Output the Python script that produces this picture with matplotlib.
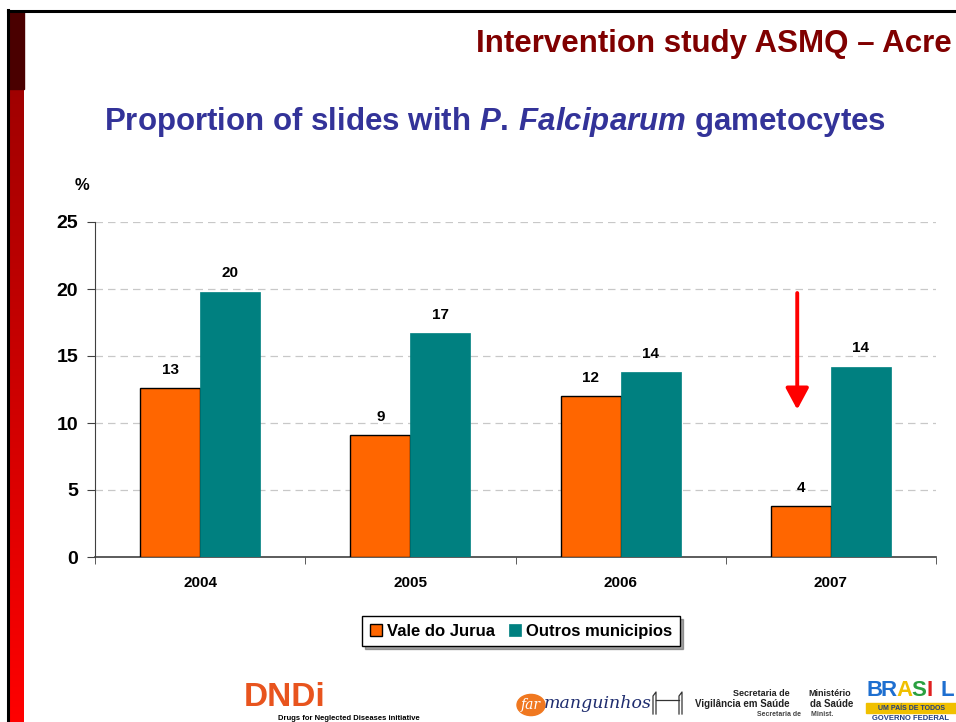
import numpy as np
import matplotlib
matplotlib.use('Agg')
import matplotlib.pyplot as plt
import matplotlib.colors as mcolors
from matplotlib.patches import Rectangle, Circle

plt.rcParams['font.family'] = ['Liberation Sans', 'DejaVu Sans']
plt.rcParams['mathtext.fontset'] = 'custom'
plt.rcParams['mathtext.it'] = 'Liberation Sans:italic:bold'
plt.rcParams['mathtext.rm'] = 'Liberation Sans:bold'

# ---- Data ----
years = ['2004', '2005', '2006', '2007']
vale_jurua = [12.6, 9.1, 12.0, 3.8]
outros_municipios = [19.8, 16.7, 13.8, 14.2]
vale_labels = ['13', '9', '12', '4']
outros_labels = ['20', '17', '14', '14']
yticks = [0, 5, 10, 15, 20, 25]

W, H = 956, 722
fig = plt.figure(figsize=(W / 100, H / 100), dpi=100)


def fx(px):
    return px / W


def fy(py):
    return 1 - py / H


# ---- Slide decoration: left gradient bar and top border ----
bar_ax = fig.add_axes([fx(9), 0, fx(24) - fx(9), fy(89)])
grad = mcolors.LinearSegmentedColormap.from_list('slide', ['#a00000', '#ff0000'])
bar_ax.imshow(np.linspace(0, 1, 256).reshape(-1, 1), cmap=grad, aspect='auto')
bar_ax.axis('off')
fig.patches.append(Rectangle((fx(9), fy(89)), fx(24) - fx(9), fy(11) - fy(89),
                             transform=fig.transFigure, color='#4a0000', zorder=1))
fig.add_artist(plt.Line2D([fx(8), fx(8)], [0, fy(10)], color='black', lw=2.2))
fig.add_artist(plt.Line2D([fx(8), 1], [fy(10.5), fy(10.5)], color='black', lw=2.2))

fig.text(fx(952), fy(44), 'Intervention study ASMQ \u2013 Acre',
         ha='right', va='center', fontsize=22.5, fontweight='bold', color='#800000')

fig.text(fx(495), fy(122),
         r'Proportion of slides with $\it{P.\,Falciparum}$ gametocytes',
         ha='center', va='center', fontsize=22.5, fontweight='bold', color='#333399')

# ---- Chart ----
ax = fig.add_axes([fx(95), fy(557), fx(936) - fx(95), fy(222) - fy(557)])
x = np.arange(len(years))
w = 0.285
ax.bar(x - w / 2, vale_jurua, w, color='#ff6600', edgecolor='black', linewidth=1.0,
       label='Vale do Jurua', zorder=3)
ax.bar(x + w / 2, outros_municipios, w, color='#008080', edgecolor='#008080', linewidth=0.5,
       label='Outros municipios', zorder=3)

for i in range(len(years)):
    ax.text(x[i] - w / 2, vale_jurua[i] + 0.85, vale_labels[i], ha='center', va='bottom',
            fontsize=11, fontweight='bold')
    ax.text(x[i] + w / 2, outros_municipios[i] + 0.85, outros_labels[i], ha='center', va='bottom',
            fontsize=11, fontweight='bold')

ax.set_xlim(-0.5, 3.5)
ax.set_ylim(0, 25)
ax.set_yticks(yticks)
ax.set_yticklabels([str(t) for t in yticks], fontsize=14, fontweight='bold')
ax.set_xticks(x)
ax.set_xticklabels(years, fontsize=11, fontweight='bold')
ax.tick_params(axis='x', length=0, pad=14)
ax.set_xticks(np.arange(-0.5, 4.0, 1.0), minor=True)
ax.tick_params(axis='x', which='minor', length=5, color='#404040')
ax.tick_params(axis='y', length=6, color='#404040', pad=6)
for t in yticks[1:]:
    ax.axhline(t, color='#c8c8c8', lw=0.9, ls=(0, (6, 4)), zorder=1)
for s in ['top', 'right']:
    ax.spines[s].set_visible(False)
ax.spines['left'].set_color('#404040')
ax.spines['bottom'].set_color('#404040')
ax.spines['bottom'].set_linewidth(1.2)

fig.text(fx(82), fy(185), '%', ha='center', va='center', fontsize=12, fontweight='bold')

# red arrow over 2007
ax.annotate('', xy=(3 - 0.16, 11.0), xytext=(3 - 0.16, 19.7),
            arrowprops=dict(arrowstyle='-|>,head_width=0.7,head_length=1.3',
                            color='#ff0000', lw=2.8, shrinkA=0, shrinkB=0))

leg = ax.legend(loc='center', bbox_to_anchor=(fx(521 - 95) / (fx(936) - fx(95)), -0.222),
                ncol=2, frameon=True, fancybox=False, shadow=True,
                prop={'weight': 'bold', 'size': 12},
                handlelength=0.75, handleheight=0.75, handletextpad=0.3,
                columnspacing=0.8, borderpad=0.45, borderaxespad=0)
leg.get_frame().set_edgecolor('black')
leg.get_frame().set_linewidth(1.0)

# ---- Footer logos (approximated) ----
fig.text(fx(244), fy(698), 'DNDi', ha='left', va='center', fontsize=24, fontweight='heavy',
         color='#e8541e')
fig.text(fx(278), fy(718), 'Drugs for Neglected Diseases initiative', ha='left', va='center',
         fontsize=5.5, fontweight='bold', color='black')
fig.patches.append(Circle((fx(531), fy(705)), 14 / W, transform=fig.transFigure,
                          color='#f07820', zorder=2))
fig.text(fx(531), fy(705), 'far', ha='center', va='center', fontsize=10, style='italic',
         color='white', family='DejaVu Serif', zorder=3)
fig.text(fx(544), fy(704), 'manguinhos', ha='left', va='center', fontsize=12.5, style='italic',
         color='#1e2c6e', family='DejaVu Serif')
# small building icon
for bx in (653, 679):
    fig.add_artist(plt.Line2D([fx(bx), fx(bx), fx(bx + 3), fx(bx + 3)],
                              [fy(714), fy(696), fy(692), fy(714)], color='#333333', lw=0.9))
fig.add_artist(plt.Line2D([fx(656), fx(679)], [fy(700), fy(700)], color='#333333', lw=0.9))
fig.text(fx(790), fy(693), 'Secretaria de', ha='right', va='center',
         fontsize=6.5, fontweight='bold', color='#222222')
fig.text(fx(790), fy(704), 'Vigil\u00e2ncia em Sa\u00fade', ha='right', va='center',
         fontsize=7, fontweight='bold', color='#222222')
fig.text(fx(830), fy(693), 'Minist\u00e9rio', ha='center', va='center',
         fontsize=6.5, fontweight='bold', color='#222222')
fig.text(fx(832), fy(704), 'da Sa\u00fade', ha='center', va='center',
         fontsize=7, fontweight='bold', color='#222222')
fig.text(fx(795), fy(714), 'Secretaria de     Minist.', ha='center', va='center',
         fontsize=5, fontweight='bold', color='#444444')
brasil_cols = ['#1e6fd0', '#1e6fd0', '#f0c000', '#2aa040', '#e02020', '#1e6fd0']
for i, ch in enumerate('BRASIL'):
    fig.text(fx(866 + i * 15), fy(690), ch, ha='left', va='center', fontsize=16,
             fontweight='bold', color=brasil_cols[i])
fig.patches.append(Rectangle((fx(866), fy(713)), fx(90), fy(703) - fy(713),
                             transform=fig.transFigure, color='#f0c000', zorder=2))
fig.text(fx(911), fy(708), 'UM PA\u00cdS DE TODOS', ha='center', va='center', fontsize=5,
         fontweight='bold', color='#1e3c80', zorder=3)
fig.text(fx(911), fy(718), 'GOVERNO FEDERAL', ha='center', va='center', fontsize=5.5,
         fontweight='bold', color='#1e3c80')

fig.savefig('out.png', dpi=100)
